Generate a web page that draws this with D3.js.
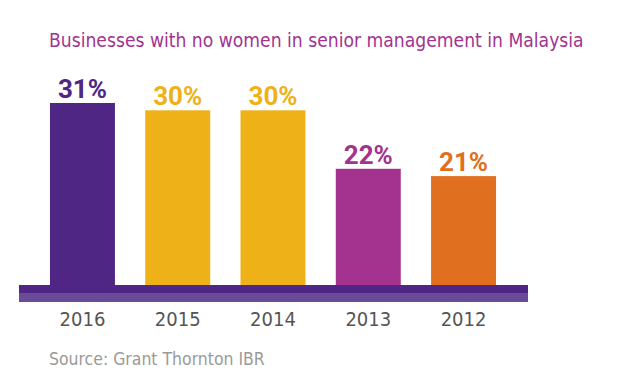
<!DOCTYPE html>
<html>
<head>
<meta charset="utf-8">
<script src="https://cdn.jsdelivr.net/npm/d3@7"></script>
<style>
  body { margin: 0; background: #fff; }
  svg { display: block; }
</style>
</head>
<body>
<div id="chart"></div>
<script>
// data
const years = ["2016", "2015", "2014", "2013", "2012"];
const shares = [31, 30, 30, 22, 21];
const barColors = ["#4f2683", "#eeb117", "#eeb117", "#a3338f", "#e16f20"];
const titleText = "Businesses with no women in senior management in Malaysia";
const sourceText = "Source: Grant Thornton IBR";

const width = 625, height = 390;
const baseY = 285;

let svg = d3.select("#chart")
    .append("svg")
    .attr("width", width)
    .attr("height", height);

// x: one band per year
let x = d3.scaleBand()
    .domain(years)
    .range([35, 511])
    .paddingInner(0.318)
    .paddingOuter(0.157);

// y: the original graphic is not zero based, bars sit on the purple strip
let y = d3.scaleLinear()
    .domain([6.1, 31])
    .range([baseY, 103]);

let data = years.map((yr, i) => ({year: yr, value: shares[i], color: barColors[i]}));

// shrink a text's font until it spans the wanted width
let fitText = (sel, size, wanted) => {
    sel.style("font-size", size + "px");
    let len = sel.node().getComputedTextLength();
    sel.style("font-size", (size * wanted / len).toFixed(2) + "px");
};

// title
let title = svg.append("text")
    .attr("x", 49)
    .attr("y", 47)
    .style("font-family", "'DejaVu Sans Condensed', sans-serif")
    .style("fill", "#a3338f")
    .text(titleText);
fitText(title, 22, 535);

// bars
svg.selectAll(".bar")
    .data(data)
    .enter()
    .append("rect")
    .attr("class", "bar")
    .attr("x", d => x(d.year))
    .attr("y", d => y(d.value))
    .attr("width", x.bandwidth())
    .attr("height", d => baseY - y(d.value) + 2)
    .attr("fill", d => d.color);

// value labels
svg.selectAll(".val")
    .data(data)
    .enter()
    .append("text")
    .attr("class", "val")
    .attr("x", d => x(d.year) + x.bandwidth() / 2)
    .attr("y", d => y(d.value) - 5)
    .style("text-anchor", "middle")
    .style("font-family", "Roboto, sans-serif")
    .style("font-weight", 700)
    .style("font-size", "26px")
    .style("fill", d => d.color)
    .text(d => d.value + "%");

// base strip (two tones)
svg.append("rect")
    .attr("x", 19)
    .attr("y", baseY)
    .attr("width", 509)
    .attr("height", 8)
    .attr("fill", "#4f2683");
svg.append("rect")
    .attr("x", 19)
    .attr("y", baseY + 8)
    .attr("width", 509)
    .attr("height", 9)
    .attr("fill", "#6a4b97");

// year axis
let xAxis = svg.append("g")
    .attr("transform", `translate(0, ${baseY + 17})`)
    .call(d3.axisBottom(x).tickSize(0).tickPadding(10));
xAxis.select(".domain").remove();
xAxis.selectAll("text")
    .style("font-family", "'DejaVu Sans Condensed', sans-serif")
    .style("font-size", "20px")
    .style("fill", "#555");

// source line
let source = svg.append("text")
    .attr("x", 49)
    .attr("y", 365)
    .style("font-family", "'DejaVu Sans Condensed', sans-serif")
    .style("fill", "#9a9a9a")
    .text(sourceText);
fitText(source, 18, 216);
</script>
</body>
</html>
